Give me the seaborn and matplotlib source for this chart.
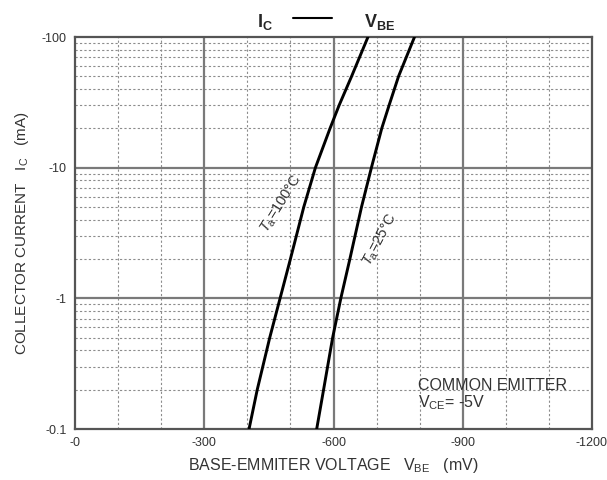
import matplotlib
matplotlib.use("Agg")
import matplotlib.pyplot as plt
from matplotlib.lines import Line2D
import numpy as np
import pandas as pd
import seaborn as sns

# Valeurs (Ic en mA, Vbe en mV)
ic_ma = [-0.1, -0.2, -0.5, -1, -2, -5, -10, -20, -30, -50, -100]
vbe_100c = [-404, -423, -452, -476, -500, -531, -558, -592, -613, -642, -680]
vbe_25c = [-561, -577, -598, -617, -638, -665, -688, -712, -729, -751, -788]

x_ticks = [0, -300, -600, -900, -1200]
x_tick_labels = ["-0", "-300", "-600", "-900", "-1200"]
y_ticks = [-0.1, -1, -10, -100]
y_tick_labels = ["-0.1", "-1", "-10", "-100"]

sns.set_style("white")
plt.rcParams['font.family'] = ['Liberation Sans', 'DejaVu Sans']
plt.rcParams['mathtext.fontset'] = 'custom'
plt.rcParams['mathtext.rm'] = 'Liberation Sans'
plt.rcParams['mathtext.it'] = 'Liberation Sans:italic'
plt.rcParams['mathtext.bf'] = 'Liberation Sans:bold'

df = pd.concat([
    pd.DataFrame({'vbe': vbe_100c, 'ic': ic_ma, 'temp': '100C'}),
    pd.DataFrame({'vbe': vbe_25c, 'ic': ic_ma, 'temp': '25C'}),
])
# axes en valeur absolue (echelle log), etiquettes avec le signe moins
df['x'] = -df['vbe']
df['y'] = -df['ic']

fig = plt.figure(figsize=(6.07, 4.8), dpi=100)
ax = fig.add_axes([75 / 607, 1 - 429 / 480, 517 / 607, 392 / 480])

ax.set_yscale('log')
ax.set_xlim(0, 1200)
ax.set_ylim(0.1, 100)

txt = '#333333'

# grille fine en pointilles
grid_col = '#8c8c8c'
for v in range(100, 1200, 100):
    if v % 300:
        ax.axvline(v, color=grid_col, lw=0.8, ls=(0, (2, 2)), zorder=1)
for dec in [0.1, 1, 10]:
    for m in range(2, 10):
        ax.axhline(dec * m, color=grid_col, lw=0.8, ls=(0, (2, 2)), zorder=1)
# grille principale
for v in [300, 600, 900]:
    ax.axvline(v, color='#7a7a7a', lw=1.6, zorder=2)
for d in [1, 10]:
    ax.axhline(d, color='#7a7a7a', lw=1.6, zorder=2)

sns.lineplot(data=df, x='x', y='y', units='temp', estimator=None,
             color='black', lw=2.1, sort=False, ax=ax, zorder=3)

ax.set_xticks([-v for v in x_ticks])
ax.set_xticklabels(x_tick_labels)
ax.set_yticks([-v for v in y_ticks])
ax.set_yticklabels(y_tick_labels)
ax.minorticks_off()
ax.tick_params(length=0, labelsize=9, labelcolor=txt, pad=6)

for s in ax.spines.values():
    s.set_color('#555555')
    s.set_linewidth(1.6)

ax.set_xlabel(r"BASE-EMMITER VOLTAGE   V$_{\mathregular{BE}}$   (mV)",
              fontsize=11.5, color=txt, labelpad=5)
ax.set_ylabel(r"COLLECTOR CURRENT   I$_{\mathregular{C}}$   (mA)",
              fontsize=11, color=txt, labelpad=8)

ax.text(480, 5.3, r"$T_{\mathregular{a}}$=100°C", rotation=58, fontsize=10.5,
        color=txt, ha='center', va='center', zorder=4)
ax.text(709, 2.8, r"$T_{\mathregular{a}}$=25°C", rotation=62, fontsize=10.5,
        color=txt, ha='center', va='center', zorder=4)

ax.text(796, 0.217, "COMMON EMITTER", fontsize=11.5, color=txt,
        ha='left', va='center')
ax.text(796, 0.158, r"V$_{\mathregular{CE}}$= -5V", fontsize=11.5, color=txt,
        ha='left', va='center')

# titre : I_C ---- V_BE
fig.text(257 / 607, 1 - 27 / 480, r"I$_{\mathbf{C}}$", fontsize=13,
         fontweight='bold', ha='left', va='baseline')
fig.text(364 / 607, 1 - 27 / 480, r"V$_{\mathbf{BE}}$", fontsize=13,
         fontweight='bold', ha='left', va='baseline')
fig.add_artist(Line2D([293 / 607, 332 / 607], [1 - 18 / 480, 1 - 18 / 480],
                      color='black', lw=1.5, transform=fig.transFigure))

fig.savefig("out.png", dpi=100)
